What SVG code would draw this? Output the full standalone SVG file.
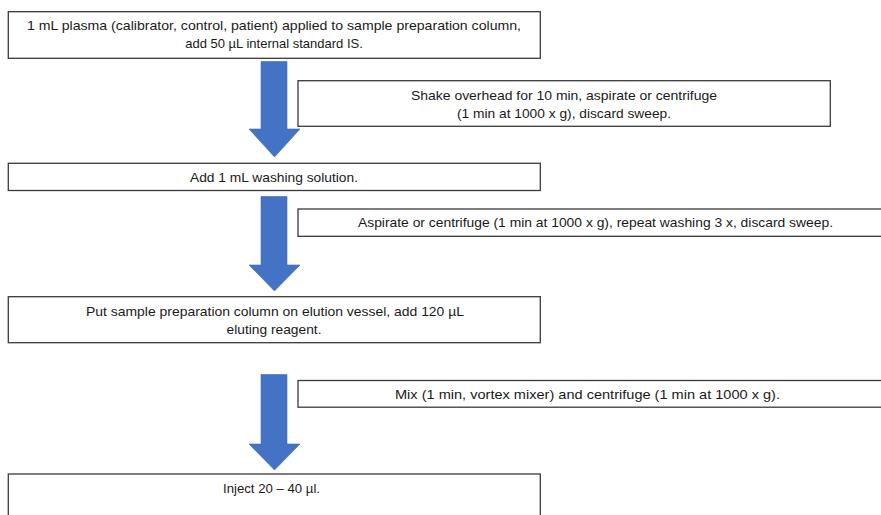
<svg xmlns="http://www.w3.org/2000/svg" width="881" height="515" viewBox="0 0 881 515">
<style>
.box{fill:#fff;stroke:#3a3a3a;stroke-width:1.3}
.t{font-family:"Liberation Sans",Arial,sans-serif;font-size:13px;fill:#1a1a1a;text-anchor:middle}
.arr{fill:#4472C4;stroke:#3f68b4;stroke-width:0.6}
</style>
<rect width="881" height="515" fill="#fff"/>
<g id="connectors">
<polygon class="arr" points="261,61.5 287,61.5 287,129 300,129 274.5,157 249,129 261,129"/>
<polygon class="arr" points="261,196.5 287,196.5 287,265 300,265 274.5,291 249,265 261,265"/>
<polygon class="arr" points="261,374.5 287,374.5 287,444 300,444 274.5,470 249,444 261,444"/>
</g>
<g id="step1">
<rect class="box" x="8.3" y="11.7" width="532" height="46.6"/>
<text class="t" x="274" y="30" textLength="494" lengthAdjust="spacingAndGlyphs">1 mL plasma (calibrator, control, patient) applied to sample preparation column,</text>
<text class="t" x="274" y="48">add 50 µL internal standard IS.</text>
</g>
<g id="note1">
<rect class="box" x="298" y="80.7" width="532.3" height="45.6"/>
<text class="t" x="564" y="100" textLength="306" lengthAdjust="spacingAndGlyphs">Shake overhead for 10 min, aspirate or centrifuge</text>
<text class="t" x="564" y="118" textLength="214" lengthAdjust="spacingAndGlyphs">(1 min at 1000 x g), discard sweep.</text>
</g>
<g id="step2">
<rect class="box" x="8.3" y="163.3" width="532" height="27.2"/>
<text class="t" x="274" y="182" textLength="168" lengthAdjust="spacingAndGlyphs">Add 1 mL washing solution.</text>
</g>
<g id="note2">
<rect class="box" x="298" y="209" width="600" height="27.3"/>
<text class="t" x="595.5" y="227" textLength="475" lengthAdjust="spacingAndGlyphs">Aspirate or centrifuge (1 min at 1000 x g), repeat washing 3 x, discard sweep.</text>
</g>
<g id="step3">
<rect class="box" x="8.3" y="296.7" width="532" height="46"/>
<text class="t" x="275" y="316" textLength="378" lengthAdjust="spacingAndGlyphs">Put sample preparation column on elution vessel, add 120 µL</text>
<text class="t" x="274" y="334" textLength="95" lengthAdjust="spacingAndGlyphs">eluting reagent.</text>
</g>
<g id="note3">
<rect class="box" x="298" y="380.5" width="600" height="26.7"/>
<text class="t" x="587.5" y="399" textLength="385" lengthAdjust="spacingAndGlyphs">Mix (1 min, vortex mixer) and centrifuge (1 min at 1000 x g).</text>
</g>
<g id="step4">
<rect class="box" x="8.3" y="474" width="532" height="60"/>
<text class="t" x="271.5" y="493" textLength="97" lengthAdjust="spacingAndGlyphs">Inject 20 – 40 µl.</text>
</g>
</svg>
